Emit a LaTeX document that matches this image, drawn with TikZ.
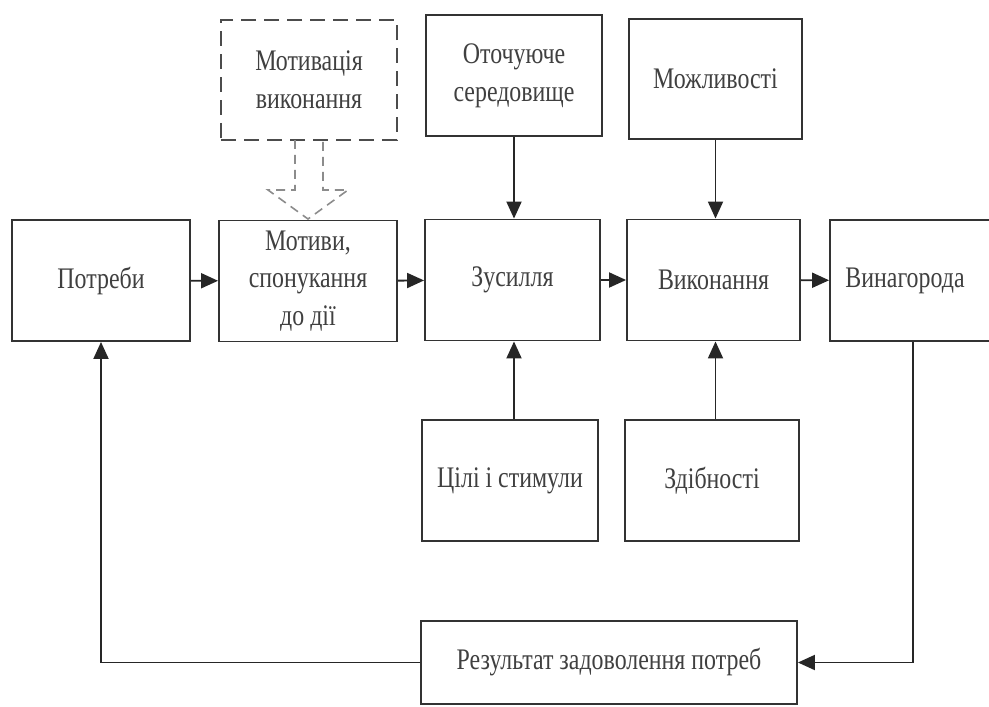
\documentclass[tikz,border=0pt]{standalone}
\usepackage{fontspec}
\setmainfont{Liberation Serif}[FakeStretch=0.8]
\usepackage{tikz}
\usetikzlibrary{arrows.meta, positioning}

\tikzset{
  box/.style={draw=black!80, line width=1.1pt, text=black!75, align=center,
    inner sep=0pt, font=\fontsize{17}{21.5}\selectfont},
  dashbox/.style={box, draw=black!70, line width=1.6pt, dash pattern=on 0.3cm off 0.16cm},
  arr/.style={draw=black!85, line width=1.1pt, -{Triangle[length=0.34cm, width=0.3cm]}},
}

\begin{document}
\begin{tikzpicture}[x=0.02cm, y=-0.02cm]

% Frame of the picture
\path[use as bounding box, fill=white] (0,0) rectangle (989,706);
\clip (0,0) rectangle (989,706);

% Draw the main row
\node[box, minimum width=3.56cm, minimum height=2.42cm] (potr) at (101,280.5) {Потреби};
\node[box, minimum width=3.56cm, minimum height=2.42cm] (motyvy) at (308,281) {Мотиви,\\спонукання\\до дії};
\node[box, minimum width=3.5cm, minimum height=2.42cm] (zusyl) at (512.5,280) {Зусилля};
\node[box, minimum width=3.46cm, minimum height=2.42cm] (vykon) at (713.5,280) {Виконання};
\node[box, minimum width=3.6cm, minimum height=2.42cm] (vynag) at (920,280.5) {\hspace*{-0.6cm}Винагорода};

% Draw the upper boxes
\node[dashbox, minimum width=3.52cm, minimum height=2.4cm] (motyvac) at (309,80) {Мотивація\\виконання};
\node[box, minimum width=3.52cm, minimum height=2.42cm] (otoch) at (514,75.5) {Оточуюче\\середовище};
\node[box, minimum width=3.46cm, minimum height=2.4cm] (mozhl) at (715.5,79) {Можливості};

% Draw the lower boxes
\node[box, minimum width=3.52cm, minimum height=2.42cm] (tsili) at (510,480.5) {Цілі і стимули};
\node[box, minimum width=3.48cm, minimum height=2.42cm] (zdibn) at (712,480.5) {Здібності};
\node[box, minimum width=7.52cm, minimum height=1.66cm] (rezult) at (609,662.5) {Результат задоволення потреб};

% Arrows along the row
\draw[arr] (potr) -- (motyvy);
\draw[arr] (motyvy) -- (zusyl);
\draw[arr] (zusyl) -- (vykon);
\draw[arr] (vykon) -- (vynag);

% Arrows from above and below
\draw[arr] (otoch.south) -- (otoch.south |- zusyl.north);
\draw[arr] (mozhl.south) -- (mozhl.south |- vykon.north);
\draw[arr] (tsili.north -| otoch.south) -- (otoch.south |- zusyl.south);
\draw[arr] (zdibn.north -| mozhl.south) -- (mozhl.south |- vykon.south);

% Feedback loop
\draw[arr] ([xshift=-0.14cm]vynag.south) |- (rezult.east);
\draw[arr] (rezult.west) -| (potr.south);

% Hollow dashed arrow into the motives
\draw[black!45, line width=0.9pt, dash pattern=on 0.18cm off 0.12cm]
  (295,140) -- (295,190) -- (268,190) -- (308,219) -- (348,190) -- (323,190) -- (323,140);

\end{tikzpicture}
\end{document}
